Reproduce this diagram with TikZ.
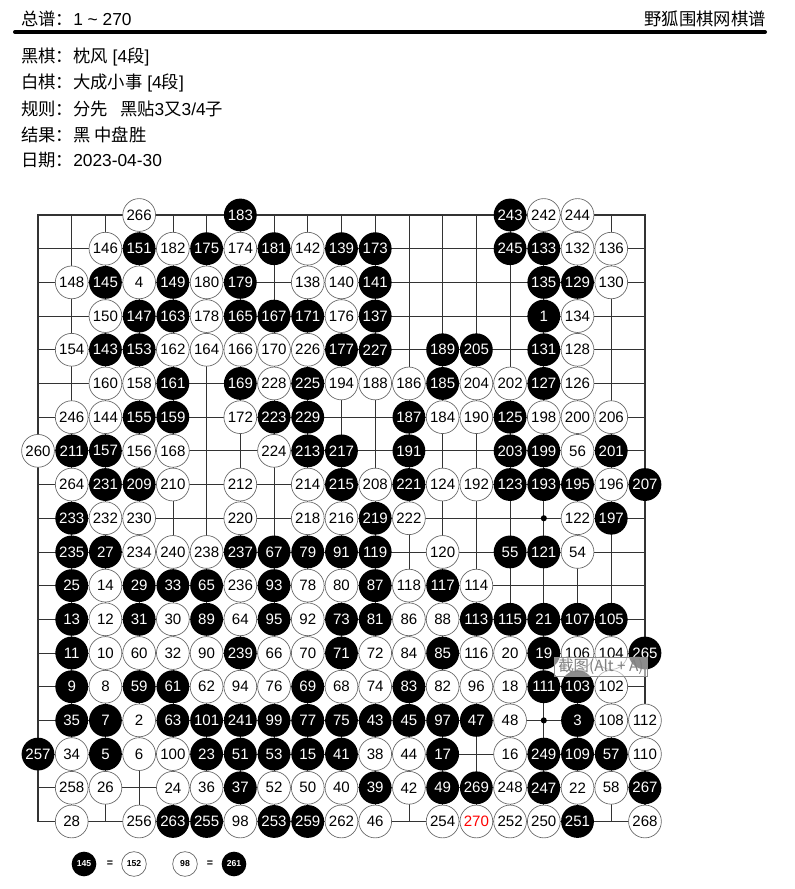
\documentclass[tikz,border=0pt]{standalone}
\usepackage{fontspec}
\setmainfont{Liberation Sans}
\newfontfamily\cjk{Noto Sans CJK SC}
\newcommand{\numfont}{\fontsize{11.3}{12}\selectfont}
\tikzset{
  gridline/.style={line width=0.55pt, black!80},
  stonebase/.style={circle, inner sep=0pt, minimum size=24.6pt, font=\numfont},
  bstone/.style={stonebase, fill=black, text=white},
  wstone/.style={stonebase, draw=black!60, line width=0.5pt, fill=white, text=black},
  legend/.style={minimum size=18.5pt, font=\bfseries\fontsize{6.5}{7}\selectfont},
  info/.style={anchor=west, inner sep=0pt, font=\fontsize{13}{15}\selectfont},
}

\begin{document}
\begin{tikzpicture}[x=0.75pt, y=-0.75pt]
  \useasboundingbox (0,0) rectangle (795,889);
  % 标题
  \node[info] (title) at (21,19) {{\cjk 总谱：}1 \textasciitilde{} 270};
  \node[info, anchor=east] (site) at (766,19) {\cjk 野狐围棋网棋谱};
  \draw[line width=3pt, line cap=round] (15,32) -- (765,32);
  % 对局信息
  \node[info] (black) at (21,57) {{\cjk 黑棋：枕风} [4{\cjk 段}]};
  \node[info] (white) at (21,83) {{\cjk 白棋：大成小事} [4{\cjk 段}]};
  \node[info] (rule) at (21,109) {{\cjk 规则：分先\hspace{0.7em}黑贴}3{\cjk 又}3/4{\cjk 子}};
  \node[info] (result) at (21,135) {\cjk 结果：黑 中盘胜};
  \node[info] (date) at (21,160) {{\cjk 日期：}2023-04-30};

  \begin{scope}[shift={(4.28,181.3)}, x=25.29pt, y=-25.27pt]
    % 棋盘
    \foreach \i in {1,...,19} {
      \draw[gridline] (1,\i) -- (19,\i);
      \draw[gridline] (\i,1) -- (\i,19);
    }
    \draw[gridline, line width=0.8pt] (1,1) rectangle (19,19);
    % 星位
    \foreach \sx in {4,10,16}
      \foreach \sy in {4,10,16}
        \fill (\sx,\sy) circle[radius=2.3pt];
    % 黑子
    \foreach \c/\r/\n in {
      7/1/183, 15/1/243,
      4/2/151, 6/2/175, 8/2/181, 10/2/139, 11/2/173, 15/2/245, 16/2/133,
      3/3/145, 5/3/149, 7/3/179, 11/3/141, 16/3/135, 17/3/129,
      4/4/147, 5/4/163, 7/4/165, 8/4/167, 9/4/171, 11/4/137, 16/4/1,
      3/5/143, 4/5/153, 10/5/177, 11/5/227, 13/5/189, 14/5/205, 16/5/131,
      5/6/161, 7/6/169, 9/6/225, 13/6/185, 16/6/127,
      4/7/155, 5/7/159, 8/7/223, 9/7/229, 12/7/187, 15/7/125,
      2/8/211, 3/8/157, 9/8/213, 10/8/217, 12/8/191, 15/8/203, 16/8/199, 18/8/201,
      3/9/231, 4/9/209, 10/9/215, 12/9/221, 15/9/123, 16/9/193, 17/9/195, 19/9/207,
      2/10/233, 11/10/219, 18/10/197,
      2/11/235, 3/11/27, 7/11/237, 8/11/67, 9/11/79, 10/11/91, 11/11/119, 15/11/55, 16/11/121,
      2/12/25, 4/12/29, 5/12/33, 6/12/65, 8/12/93, 11/12/87, 13/12/117,
      2/13/13, 4/13/31, 6/13/89, 8/13/95, 10/13/73, 11/13/81, 14/13/113, 15/13/115, 16/13/21, 17/13/107, 18/13/105,
      2/14/11, 7/14/239, 10/14/71, 13/14/85, 16/14/19, 19/14/265,
      2/15/9, 4/15/59, 5/15/61, 9/15/69, 12/15/83, 16/15/111, 17/15/103,
      2/16/35, 3/16/7, 5/16/63, 6/16/101, 7/16/241, 8/16/99, 9/16/77, 10/16/75, 11/16/43, 12/16/45, 13/16/97, 14/16/47, 17/16/3,
      1/17/257, 3/17/5, 6/17/23, 7/17/51, 8/17/53, 9/17/15, 10/17/41, 13/17/17, 16/17/249, 17/17/109, 18/17/57,
      7/18/37, 11/18/39, 13/18/49, 14/18/269, 16/18/247, 19/18/267,
      5/19/263, 6/19/255, 8/19/253, 9/19/259, 17/19/251}
      \node[bstone] (s\n) at (\c,\r) {\n};
    % 白子
    \foreach \c/\r/\n in {
      4/1/266, 16/1/242, 17/1/244,
      3/2/146, 5/2/182, 7/2/174, 9/2/142, 17/2/132, 18/2/136,
      2/3/148, 4/3/4, 6/3/180, 9/3/138, 10/3/140, 18/3/130,
      3/4/150, 6/4/178, 10/4/176, 17/4/134,
      2/5/154, 5/5/162, 6/5/164, 7/5/166, 8/5/170, 9/5/226, 17/5/128,
      3/6/160, 4/6/158, 8/6/228, 10/6/194, 11/6/188, 12/6/186, 14/6/204, 15/6/202, 17/6/126,
      2/7/246, 3/7/144, 7/7/172, 13/7/184, 14/7/190, 16/7/198, 17/7/200, 18/7/206,
      1/8/260, 4/8/156, 5/8/168, 8/8/224, 17/8/56,
      2/9/264, 5/9/210, 7/9/212, 9/9/214, 11/9/208, 13/9/124, 14/9/192, 18/9/196,
      3/10/232, 4/10/230, 7/10/220, 9/10/218, 10/10/216, 12/10/222, 17/10/122,
      4/11/234, 5/11/240, 6/11/238, 13/11/120, 17/11/54,
      3/12/14, 7/12/236, 9/12/78, 10/12/80, 12/12/118, 14/12/114,
      3/13/12, 5/13/30, 7/13/64, 9/13/92, 12/13/86, 13/13/88,
      3/14/10, 4/14/60, 5/14/32, 6/14/90, 8/14/66, 9/14/70, 11/14/72, 12/14/84, 14/14/116, 15/14/20, 17/14/106, 18/14/104,
      3/15/8, 6/15/62, 7/15/94, 8/15/76, 10/15/68, 11/15/74, 13/15/82, 14/15/96, 15/15/18, 18/15/102,
      4/16/2, 15/16/48, 18/16/108, 19/16/112,
      2/17/34, 4/17/6, 5/17/100, 11/17/38, 12/17/44, 15/17/16, 19/17/110,
      2/18/258, 3/18/26, 5/18/24, 6/18/36, 8/18/52, 9/18/50, 10/18/40, 12/18/42, 15/18/248, 17/18/22, 18/18/58,
      2/19/28, 4/19/256, 7/19/98, 10/19/262, 11/19/46, 13/19/254, 15/19/252, 16/19/250, 19/19/268}
      \node[wstone] (s\n) at (\c,\r) {\n};
    % 最后一手
    \node[wstone, text=red] (s270) at (14,19) {270};
  \end{scope}

  % 截图提示
  \node[draw=black!45, fill=white, fill opacity=0.55, text opacity=1, text=black!50,
        inner sep=1pt, minimum width=70pt, minimum height=14pt,
        font=\cjk\fontsize{11.5}{12}\selectfont] (tip) at (601,666.5) {截图(Alt + A)};

  % 打劫说明
  \node[bstone, legend] (k145) at (84,864) {145};
  \node[font=\bfseries\fontsize{8}{9}\selectfont] (eq1) at (110,864) {=};
  \node[wstone, legend] (k152) at (134,864) {152};
  \node[wstone, legend] (k98) at (185,864) {98};
  \node[font=\bfseries\fontsize{8}{9}\selectfont] (eq2) at (210,864) {=};
  \node[bstone, legend] (k261) at (234,864) {261};
\end{tikzpicture}
\end{document}
